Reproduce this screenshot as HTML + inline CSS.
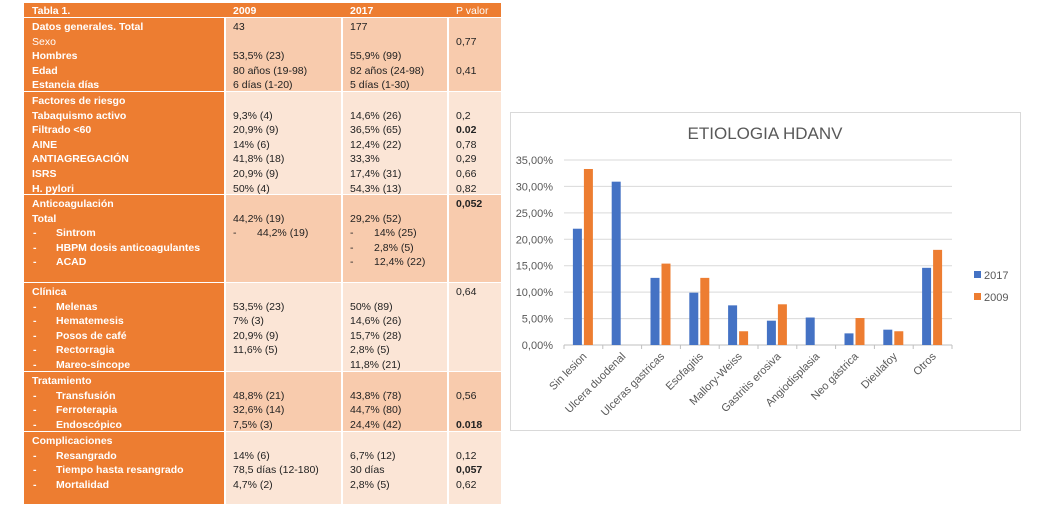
<!DOCTYPE html>
<html><head><meta charset="utf-8">
<style>
body{margin:0;width:1043px;height:515px;background:#fff;position:relative;overflow:hidden;font-family:"Liberation Sans",sans-serif;}
.c{position:absolute;box-sizing:border-box;}
.t{position:absolute;font-size:10.5px;line-height:14.6px;white-space:pre;color:#222;}
.w{color:#fff;font-weight:bold;}
.b{font-weight:bold;}
</style></head><body>
<div id="tbl"></div>
<svg id="chart" width="1043" height="515" style="position:absolute;left:0;top:0;pointer-events:none"></svg>
<script>
// ---- table ----
const T=document.getElementById('tbl');
function cell(x,y,w,h,bg,name){const d=document.createElement('div');d.className='c';d.style.cssText=`left:${x}px;top:${y}px;width:${w}px;height:${h}px;background:${bg}`;


T.appendChild(d);}
function txt(x,y,s,cls,name){const d=document.createElement('div');d.className='t '+(cls||'');d.style.left=x+'px';d.style.top=y+'px';d.textContent=s;


T.appendChild(d);}
// header
cell(24,3,477,14,'#ED7D31','header-row');
txt(32,3.5,'Tabla 1.','w','header-title');txt(233,3.5,'2009','w','header-2009');txt(350,3.5,'2017','w','header-2017');txt(456,3.5,'P valor','','header-pvalor');
T.lastChild.style.color='#fff';
const sections=[
 {top:18,h:73,bg:'#F8CBAD',rows:[
  ['Datos generales. Total','43','177','',0],['Sexo','','','0,77',0,1],['Hombres','53,5% (23)','55,9% (99)','',0],['Edad','80 años (19-98)','82 años (24-98)','0,41',0],['Estancia días','6 días (1-20)','5 días (1-30)','',0]]},
 {top:92,h:102,bg:'#FBE5D6',rows:[
  ['Factores de riesgo','','','',0],['Tabaquismo activo','9,3% (4)','14,6% (26)','0,2',0],['Filtrado <60','20,9% (9)','36,5% (65)','0.02',0,0,1],['AINE','14% (6)','12,4% (22)','0,78',0],['ANTIAGREGACIÓN','41,8% (18)','33,3%','0,29',0],['ISRS','20,9% (9)','17,4% (31)','0,66',0],['H. pylori','50% (4)','54,3% (13)','0,82',0]]},
 {top:195,h:87,bg:'#F8CBAD',rows:[
  ['Anticoagulación','','','0,052',0,0,1],['Total','44,2% (19)','29,2% (52)','',0],['Sintrom','-D44,2% (19)','-D14% (25)','',1],['HBPM dosis anticoagulantes','','-D2,8% (5)','',1],['ACAD','','-D12,4% (22)','',1]]},
 {top:283,h:88,bg:'#FBE5D6',rows:[
  ['Clínica','','','0,64',0],['Melenas','53,5% (23)','50% (89)','',1],['Hematemesis','7% (3)','14,6% (26)','',1],['Posos de café','20,9% (9)','15,7% (28)','',1],['Rectorragia','11,6% (5)','2,8% (5)','',1],['Mareo-síncope','','11,8% (21)','',1]]},
 {top:372,h:59,bg:'#F8CBAD',rows:[
  ['Tratamiento','','','',0],['Transfusión','48,8% (21)','43,8% (78)','0,56',1],['Ferroterapia','32,6% (14)','44,7% (80)','',1],['Endoscópico','7,5% (3)','24,4% (42)','0.018',1,0,1]]},
 {top:432,h:72,bg:'#FBE5D6',rows:[
  ['Complicaciones','','','',0],['Resangrado','14% (6)','6,7% (12)','0,12',1],['Tiempo hasta resangrado','78,5 días (12-180)','30 días','0,057',1,0,1],['Mortalidad','4,7% (2)','2,8% (5)','0,62',1]]}
];
sections.forEach((s,si)=>{
 cell(24,s.top,200,s.h,'#ED7D31','section-'+si+'-label-cell');
 cell(226,s.top,115,s.h,s.bg,'section-'+si+'-2009-cell');
 cell(343,s.top,104,s.h,s.bg,'section-'+si+'-2017-cell');
 cell(449,s.top,52,s.h,s.bg,'section-'+si+'-p-cell');
 s.rows.forEach((r,i)=>{
  const y=s.top+2+i*14.6;
  if(r[4]){txt(33,y,'-','w','row-dash');txt(56,y,r[0],'w','row-label');}
  else{txt(32,y,r[0],'w','row-label');if(r[5])T.lastChild.style.fontWeight='normal';}
  [[r[1],233],[r[2],350]].forEach(([v,x])=>{
   if(!v)return;
   if(v.startsWith('-D')){txt(x,y,'-','','value-dash');txt(x+24,y,v.slice(2),'','row-value');}
   else txt(x,y,v,'','row-value');
  });
  if(r[3])txt(456,y,r[3],r[6]?'b':'','row-pvalue');
 });
});
</script>
<script>
// ---- chart data ----
const categories=['Sin lesion','Ulcera duodenal','Ulceras gastricas','Esofagitis','Mallory-Weiss','Gastritis erosiva','Angiodisplasia','Neo gástrica','Dieulafoy','Otros'];
const s2017=[22.0,30.9,12.7,9.9,7.5,4.6,5.2,2.2,2.9,14.6];
const s2009=[33.3,0,15.4,12.7,2.6,7.7,0,5.1,2.6,18.0];
const yTicks=[0,5,10,15,20,25,30,35];
const yTickLabels=['0,00%','5,00%','10,00%','15,00%','20,00%','25,00%','30,00%','35,00%'];
const seriesNames=['2017','2009'];
const colors=['#4472C4','#ED7D31'];
const svg=document.getElementById('chart');const NS='http://www.w3.org/2000/svg';
function el(tag,attrs,name,text){const e=document.createElementNS(NS,tag);for(const k in attrs)e.setAttribute(k,attrs[k]);


if(text!==undefined)e.textContent=text;svg.appendChild(e);return e;}
const L=564,R=952,Y0=345,Y1=160,MAX=35;
const y=v=>Y0-(v/MAX)*(Y0-Y1);
const cw=(R-L)/categories.length;
const xc=i=>L+cw*(i+0.5);
el('rect',{x:510.5,y:112.5,width:510,height:318,fill:'#fff',stroke:'#d9d9d9'},'chart-frame');
el('text',{x:765,y:139,'text-anchor':'middle','font-size':17,fill:'#595959','font-family':'Liberation Sans, sans-serif'},'chart-title','ETIOLOGIA HDANV');
yTicks.forEach((t,i)=>{
 el('line',{x1:L,x2:R,y1:y(t),y2:y(t),stroke:i===0?'#bfbfbf':'#d9d9d9','stroke-width':1},'gridline');
 el('text',{x:553,y:y(t)+4,'text-anchor':'end','font-size':11,fill:'#595959','font-family':'Liberation Sans, sans-serif'},'y-tick-label',yTickLabels[i]);
});
for(let i=0;i<=categories.length;i++)el('line',{x1:L+cw*i,x2:L+cw*i,y1:Y0,y2:Y0+4,stroke:'#bfbfbf'},'x-tick');
categories.forEach((c,i)=>{
 el('rect',{x:xc(i)-10.5,y:y(s2017[i]),width:9,height:Y0-y(s2017[i]),fill:colors[0]},'bar-2017');
 el('rect',{x:xc(i)+0.5,y:y(s2009[i]),width:9,height:Y0-y(s2009[i]),fill:colors[1]},'bar-2009');
 el('text',{x:xc(i)+4,y:Y0+12,'text-anchor':'end','font-size':11,fill:'#595959','font-family':'Liberation Sans, sans-serif',transform:`rotate(-45 ${xc(i)+4} ${Y0+12})`},'x-category-label',c);
});
seriesNames.forEach((n,i)=>{
 el('rect',{x:974,y:271+i*22,width:7,height:7,fill:colors[i]},'legend-swatch-'+n);
 el('text',{x:984,y:279+i*22,'font-size':11,fill:'#595959','font-family':'Liberation Sans, sans-serif'},'legend-entry-'+n,n);
});
</script>
</body></html>
